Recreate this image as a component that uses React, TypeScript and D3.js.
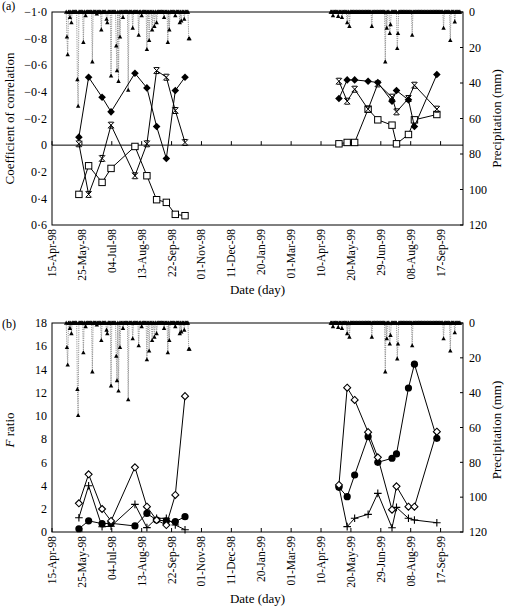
import * as d3 from 'd3';

// Sampling dates of the two field seasons
const sampleDates98 = ['1998-05-21', '1998-06-03', '1998-06-21', '1998-07-03', '1998-08-04', '1998-08-20', '1998-09-02', '1998-09-15', '1998-09-27', '1998-10-10'];
const sampleDates99 = ['1999-05-04', '1999-05-15', '1999-05-25', '1999-06-12', '1999-06-25', '1999-07-14', '1999-07-20', '1999-08-05', '1999-08-13', '1999-09-12'];

// (a) correlation coefficients
const corrDiamond98 = [-0.06, -0.51, -0.36, -0.25, -0.54, -0.43, -0.14, 0.1, -0.41, -0.51];
const corrStar98 = [-0.01, 0.37, 0.1, -0.15, 0.23, -0.01, -0.56, -0.51, -0.26, -0.02];
const corrSquare98 = [0.37, 0.155, 0.28, 0.175, 0.01, 0.23, 0.41, 0.43, 0.52, 0.53];
const corrDiamond99 = [-0.35, -0.49, -0.49, -0.48, -0.47, -0.33, -0.41, -0.34, -0.14, -0.53];
const corrStar99 = [-0.48, -0.33, -0.42, -0.27, -0.46, -0.36, -0.25, -0.35, -0.45, -0.27];
const corrSquare99 = [-0.01, -0.02, -0.02, -0.27, -0.19, -0.15, -0.01, -0.08, -0.19, -0.23];

// (b) F ratios
const fOpen98 = [2.47, 4.97, 1.98, 0.95, 5.57, 2.18, 1.03, 0.6, 3.19, 11.7];
const fCross98 = [1.23, 3.98, 0.45, 0.5, 2.38, 0.38, 1.18, 1.18, 0.6, 0.2];
const fFilled98 = [0.28, 0.96, 0.72, 0.75, 0.52, 1.6, 1.03, 0.95, 0.89, 1.32];
const fOpen99 = [4.05, 12.43, 11.37, 8.6, 6.43, 1.92, 3.93, 2.18, 2.18, 8.64];
const fCross99 = [3.9, 0.46, 1.18, 1.52, 3.33, 0.37, 2.12, 1.18, 1.03, 0.8];
const fFilled99 = [3.85, 3.04, 4.91, 8.21, 6.0, 6.35, 6.72, 12.4, 14.45, 8.07];

// Daily precipitation (mm); days not listed inside a season were dry
const season98 = ['1998-05-04', '1998-10-16'];
const season99 = ['1999-04-23', '1999-10-13'];
const rain98: [string, number][] = [
  ['1998-05-05', 14], ['1998-05-06', 24], ['1998-05-09', 3], ['1998-05-11', 6],
  ['1998-05-19', 38], ['1998-05-20', 53], ['1998-05-27', 17], ['1998-05-30', 2],
  ['1998-06-08', 28], ['1998-06-14', 1], ['1998-06-20', 10], ['1998-06-27', 4],
  ['1998-06-28', 6], ['1998-07-03', 36], ['1998-07-10', 19], ['1998-07-11', 33],
  ['1998-07-13', 39], ['1998-07-15', 14], ['1998-07-19', 3], ['1998-07-26', 44],
  ['1998-08-01', 9], ['1998-08-09', 13], ['1998-08-13', 2], ['1998-08-20', 21],
  ['1998-08-23', 16], ['1998-08-27', 10], ['1998-08-30', 8], ['1998-09-02', 6],
  ['1998-09-12', 3], ['1998-09-17', 17], ['1998-09-19', 10], ['1998-09-27', 2],
  ['1998-10-03', 6], ['1998-10-05', 5], ['1998-10-09', 4], ['1998-10-15', 15],
  ['1998-10-16', 15],
];
const rain99: [string, number][] = [
  ['1999-04-26', 2], ['1999-05-03', 2.4], ['1999-05-08', 3], ['1999-05-15', 6],
  ['1999-05-18', 8], ['1999-06-17', 8], ['1999-07-05', 28], ['1999-07-07', 9],
  ['1999-07-11', 12], ['1999-07-12', 7], ['1999-07-21', 20.5], ['1999-07-22', 12],
  ['1999-08-10', 13], ['1999-09-21', 9], ['1999-09-30', 16], ['1999-10-06', 5.5],
];

const tickLabels = ['15-Apr-98', '25-May-98', '04-Jul-98', '13-Aug-98', '22-Sep-98', '01-Nov-98', '11-Dec-98', '20-Jan-99', '01-Mar-99', '10-Apr-99', '20-May-99', '29-Jun-99', '08-Aug-99', '17-Sep-99'];
const corrTicks = [-1, -0.8, -0.6, -0.4, -0.2, 0, 0.2, 0.4, 0.6];
const fTicks = [0, 2, 4, 6, 8, 10, 12, 14, 16, 18];
const precipTicks = [0, 20, 40, 60, 80, 100, 120];

const FONT = '"Liberation Serif", "Times New Roman", serif';
const parseIso = d3.timeParse('%Y-%m-%d');
const parseTick = d3.timeParse('%d-%b-%y');
const fmtIso = d3.timeFormat('%Y-%m-%d');

const left = 52;
const right = 463;

const x = d3.scaleTime()
  .domain([parseIso('1998-04-15')!, parseIso('1999-10-17')!])
  .range([left, right]);

function dailyRain(season: string[], events: [string, number][]) {
  const lookup = new Map(events);
  const days = d3.timeDay.range(parseIso(season[0])!, d3.timeDay.offset(parseIso(season[1])!, 1));
  return days.map(day => ({ date: day, value: lookup.get(fmtIso(day)) ?? 0 }));
}

const rainSeries = [dailyRain(season98, rain98), dailyRain(season99, rain99)];

type MarkerKind = 'diamond' | 'square' | 'star' | 'openDiamond' | 'plus' | 'dot';

function Marker({ kind, cx, cy }: { kind: MarkerKind; cx: number; cy: number }) {
  const t = `translate(${cx},${cy})`;
  switch (kind) {
    case 'diamond':
      return <path transform={t} d="M0,-3.8L3.8,0L0,3.8L-3.8,0Z" fill="#000" />;
    case 'openDiamond':
      return <path transform={t} d="M0,-3.5L3.5,0L0,3.5L-3.5,0Z" fill="#fff" stroke="#000" strokeWidth={1.1} />;
    case 'square':
      return <rect x={cx - 3.2} y={cy - 3.2} width={6.4} height={6.4} fill="#fff" stroke="#000" strokeWidth={1} />;
    case 'star':
      return <path transform={t} d="M-3,-3L3,3M-3,3L3,-3M-2.5,-3H2.5M-2.5,3H2.5" stroke="#000" strokeWidth={1} fill="none" />;
    case 'plus':
      return <path transform={t} d="M-3.8,0H3.8M0,-3.8V3.8" stroke="#000" strokeWidth={1.1} fill="none" />;
    case 'dot':
      return <circle cx={cx} cy={cy} r={3.6} fill="#000" />;
  }
}

function Series({ dates, values, y, kind }: { dates: string[]; values: number[]; y: d3.ScaleLinear<number, number>; kind: MarkerKind }) {
  const pts = dates.map((d, i) => [x(parseIso(d)!), y(values[i])] as [number, number]);
  return (
    <g>
      <path d={d3.line()(pts) ?? ''} fill="none" stroke="#000" strokeWidth={1} />
      {pts.map((p, i) => <Marker key={i} kind={kind} cx={p[0]} cy={p[1]} />)}
    </g>
  );
}

function Rain({ py }: { py: d3.ScaleLinear<number, number> }) {
  const line = d3.line<{ date: Date; value: number }>().x(d => x(d.date)).y(d => py(d.value));
  return (
    <g>
      {rainSeries.map((s, i) => (
        <g key={i}>
          <path d={line(s) ?? ''} fill="none" stroke="#8a8a8a" strokeWidth={0.9} strokeDasharray="1.2,1" />
          {s.map((d, j) => (
            <path key={j} transform={`translate(${x(d.date)},${py(d.value)})`} d="M0,-2.4L2.2,1.7L-2.2,1.7Z" fill="#000" />
          ))}
        </g>
      ))}
    </g>
  );
}

function DateAxis({ axisY, labelY, titleY }: { axisY: number; labelY: number; titleY: number }) {
  return (
    <g fontFamily={FONT}>
      {tickLabels.map(lbl => {
        const tx = x(parseTick(lbl)!);
        return (
          <g key={lbl}>
            <line x1={tx} x2={tx} y1={axisY} y2={axisY - 4} stroke="#000" strokeWidth={1} />
            <text transform={`translate(${tx},${labelY}) rotate(-90)`} textAnchor="end" dy="0.35em" fontSize={11.5}>{lbl}</text>
          </g>
        );
      })}
      <text x={(left + right) / 2} y={titleY} textAnchor="middle" fontSize={13}>Date (day)</text>
    </g>
  );
}

function RightAxis({ py }: { py: d3.ScaleLinear<number, number> }) {
  return (
    <g fontFamily={FONT} fontSize={12}>
      {precipTicks.map(v => (
        <g key={v}>
          <line x1={right} x2={right - 3} y1={py(v)} y2={py(v)} stroke="#000" />
          <text x={right + 6} y={py(v)} dy="0.35em">{v}</text>
        </g>
      ))}
    </g>
  );
}

const corrFmt = (v: number) => (v === 0 ? '0' : (v < 0 ? '−' : '') + Math.abs(v).toFixed(1).replace('.', '·'));

export default function App() {
  // panel (a)
  const aTop = 12;
  const aBottom = 225;
  const corrY = d3.scaleLinear().domain([-1, 0.6]).range([aTop, aBottom]);
  const rainYA = d3.scaleLinear().domain([0, 120]).range([aTop, aBottom]);

  // panel (b)
  const bTop = 323;
  const bBottom = 532;
  const fY = d3.scaleLinear().domain([0, 18]).range([bBottom, bTop]);
  const rainYB = d3.scaleLinear().domain([0, 120]).range([bTop, bBottom]);

  return (
    <svg width={511} height={606} style={{ position: 'absolute', left: 0, top: 0, background: '#fff' }}>
      {/* (a) correlation */}
      <text x={2} y={10} fontFamily={FONT} fontSize={12}>(a)</text>
      <rect x={left} y={aTop} width={right - left} height={aBottom - aTop} fill="none" stroke="#000" strokeWidth={1} />
      <line x1={left} x2={right} y1={corrY(0)} y2={corrY(0)} stroke="#000" strokeWidth={1} />
      <Rain py={rainYA} />
      <Series dates={sampleDates98} values={corrSquare98} y={corrY} kind="square" />
      <Series dates={sampleDates98} values={corrStar98} y={corrY} kind="star" />
      <Series dates={sampleDates98} values={corrDiamond98} y={corrY} kind="diamond" />
      <Series dates={sampleDates99} values={corrSquare99} y={corrY} kind="square" />
      <Series dates={sampleDates99} values={corrStar99} y={corrY} kind="star" />
      <Series dates={sampleDates99} values={corrDiamond99} y={corrY} kind="diamond" />
      <g fontFamily={FONT} fontSize={12}>
        {corrTicks.map(v => (
          <text key={v} x={47} y={corrY(v)} dy="0.35em" textAnchor="end">{corrFmt(v)}</text>
        ))}
      </g>
      <DateAxis axisY={corrY(0)} labelY={aBottom + 4} titleY={294} />
      <RightAxis py={rainYA} />
      <text transform={`translate(14,${(aTop + aBottom) / 2}) rotate(-90)`} textAnchor="middle" fontFamily={FONT} fontSize={13}>Coefficient of correlation</text>
      <text transform={`translate(501,${(aTop + aBottom) / 2}) rotate(-90)`} textAnchor="middle" fontFamily={FONT} fontSize={13}>Precipitation (mm)</text>

      {/* (b) F ratio */}
      <text x={2} y={328} fontFamily={FONT} fontSize={12}>(b)</text>
      <rect x={left} y={bTop} width={right - left} height={bBottom - bTop} fill="none" stroke="#000" strokeWidth={1} />
      <Rain py={rainYB} />
      <Series dates={sampleDates98} values={fCross98} y={fY} kind="plus" />
      <Series dates={sampleDates98} values={fFilled98} y={fY} kind="dot" />
      <Series dates={sampleDates98} values={fOpen98} y={fY} kind="openDiamond" />
      <Series dates={sampleDates99} values={fCross99} y={fY} kind="plus" />
      <Series dates={sampleDates99} values={fFilled99} y={fY} kind="dot" />
      <Series dates={sampleDates99} values={fOpen99} y={fY} kind="openDiamond" />
      <g fontFamily={FONT} fontSize={12}>
        {fTicks.map(v => (
          <text key={v} x={47} y={fY(v)} dy="0.35em" textAnchor="end">{v}</text>
        ))}
      </g>
      <DateAxis axisY={bBottom} labelY={bBottom + 4} titleY={603} />
      <RightAxis py={rainYB} />
      <text transform={`translate(14,430) rotate(-90)`} textAnchor="middle" fontFamily={FONT} fontSize={13}>
        <tspan fontStyle="italic">F</tspan> ratio
      </text>
      <text transform={`translate(501,430) rotate(-90)`} textAnchor="middle" fontFamily={FONT} fontSize={13}>Precipitation (mm)</text>
    </svg>
  );
}
